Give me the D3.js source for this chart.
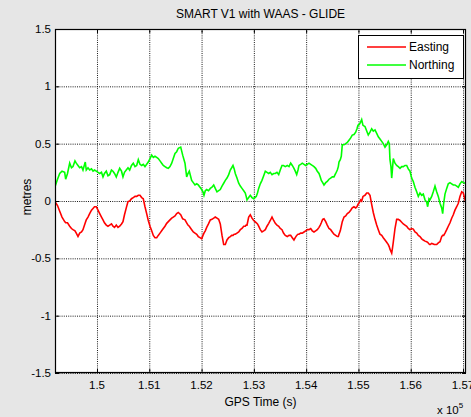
<!DOCTYPE html>
<html><head><meta charset="utf-8">
<script src="https://cdn.jsdelivr.net/npm/d3@7"></script>
<style>
html,body{margin:0;padding:0;background:#e6e6e6;overflow:hidden;}
svg{display:block;font-family:"Liberation Sans",Arial,Helvetica,sans-serif;}
</style></head><body>
<svg id="chart" width="471" height="417"></svg>
<script>
const time=[
149197,149245,149287,149331,149382,149401,149436,149478,149512,149541,
149579,149604,149637,149669,149704,149732,149776,149795,149828,149860,
149895,149924,149952,149987,150019,150052,150086,150115,150143,150178,
150210,150243,150277,150306,150335,150369,150402,150434,150469,150497,
150526,150560,150593,150625,150660,150694,150727,150759,150790,150822,
150855,150885,150918,150950,150981,151014,151046,151077,151109,151142,
151172,151205,151237,151268,151300,151333,151364,151396,151429,151459,
151492,151524,151555,151601,151639,151664,151683,151715,151740,151765,
151811,151842,151874,151907,151937,151970,152002,152027,152046,152071,
152098,152132,152167,152199,152232,152262,152295,152327,152358,152391,
152423,152454,152486,152519,152549,152576,152601,152624,152645,152677,
152710,152741,152773,152806,152836,152853,152869,152901,152932,152964,
152997,153022,153047,153069,153092,153123,153155,153188,153219,153251,
153284,153314,153347,153379,153410,153442,153475,153505,153538,153567,
153601,153639,153672,153704,153735,153767,153792,153819,153844,153863,
153896,153926,153959,153991,154022,154054,154087,154117,154150,154182,
154213,154246,154270,154290,154316,154341,154374,154404,154437,154469,
154500,154532,154565,154596,154615,154628,154653,154672,154691,154724,
154756,154787,154819,154852,154882,154915,154947,154972,154991,155020,
155043,155062,155087,155125,155158,155188,155221,155253,155284,155317,
155349,155380,155412,155445,155475,155508,155540,155571,155590,155603,
155622,155636,155651,155666,155699,155731,155762,155795,155827,155858,
155890,155923,155953,155986,156018,156049,156081,156114,156145,156177,
156210,156240,156273,156305,156324,156349,156368,156401,156431,156451,
156464,156496,156527,156560,156592,156611,156630,156655,156688,156718,
156751,156783,156814,156846,156879,156910,156942,156975,157005,157038,
157057];

const easting=[
-0.005,-0.04,-0.09,-0.14,-0.18,-0.19,-0.19,-0.22,-0.24,-0.25,
-0.26,-0.28,-0.31,-0.28,-0.27,-0.25,-0.19,-0.165,-0.14,-0.11,
-0.08,-0.065,-0.05,-0.05,-0.08,-0.11,-0.14,-0.165,-0.19,-0.21,
-0.22,-0.21,-0.20,-0.22,-0.23,-0.21,-0.23,-0.22,-0.20,-0.18,
-0.12,-0.06,-0.005,0.00,0.02,0.03,0.04,0.04,0.05,0.05,
0.03,0.02,-0.05,-0.11,-0.17,-0.22,-0.26,-0.30,-0.32,-0.32,
-0.30,-0.28,-0.26,-0.24,-0.22,-0.195,-0.18,-0.165,-0.15,-0.14,
-0.13,-0.11,-0.10,-0.12,-0.155,-0.16,-0.165,-0.19,-0.21,-0.22,
-0.25,-0.27,-0.28,-0.29,-0.31,-0.32,-0.33,-0.30,-0.28,-0.26,
-0.23,-0.20,-0.165,-0.16,-0.15,-0.14,-0.15,-0.16,-0.20,-0.30,
-0.38,-0.38,-0.34,-0.32,-0.31,-0.30,-0.30,-0.29,-0.29,-0.28,
-0.27,-0.25,-0.24,-0.22,-0.22,-0.21,-0.21,-0.14,-0.12,-0.15,
-0.17,-0.18,-0.19,-0.20,-0.22,-0.25,-0.27,-0.26,-0.25,-0.22,
-0.195,-0.17,-0.14,-0.17,-0.195,-0.21,-0.22,-0.24,-0.25,-0.28,
-0.30,-0.31,-0.30,-0.30,-0.32,-0.34,-0.32,-0.30,-0.29,-0.29,
-0.28,-0.28,-0.27,-0.26,-0.25,-0.25,-0.24,-0.26,-0.27,-0.26,
-0.25,-0.23,-0.21,-0.19,-0.16,-0.155,-0.18,-0.21,-0.24,-0.25,
-0.27,-0.29,-0.30,-0.31,-0.31,-0.29,-0.26,-0.22,-0.18,-0.14,
-0.13,-0.11,-0.10,-0.08,-0.06,-0.05,-0.06,-0.05,-0.03,-0.01,
0.01,0.00,0.04,0.05,0.07,0.07,0.05,-0.03,-0.10,-0.16,
-0.21,-0.25,-0.29,-0.30,-0.32,-0.34,-0.36,-0.38,-0.40,-0.42,
-0.44,-0.455,-0.41,-0.36,-0.24,-0.16,-0.16,-0.17,-0.185,-0.20,
-0.21,-0.22,-0.24,-0.25,-0.24,-0.245,-0.27,-0.28,-0.30,-0.31,
-0.33,-0.34,-0.35,-0.355,-0.36,-0.375,-0.38,-0.37,-0.375,-0.38,
-0.38,-0.38,-0.365,-0.355,-0.31,-0.30,-0.30,-0.28,-0.25,-0.22,
-0.19,-0.15,-0.12,-0.08,-0.05,-0.02,0.04,0.08,0.07,0.01,
-0.02];

const northing=[
0.125,0.19,0.24,0.26,0.25,0.19,0.24,0.33,0.29,0.30,
0.35,0.33,0.31,0.29,0.30,0.27,0.34,0.27,0.29,0.27,
0.28,0.26,0.27,0.26,0.25,0.24,0.25,0.21,0.24,0.26,
0.22,0.23,0.27,0.26,0.24,0.21,0.25,0.285,0.26,0.21,
0.25,0.27,0.29,0.27,0.31,0.33,0.30,0.31,0.36,0.32,
0.31,0.32,0.30,0.32,0.34,0.37,0.40,0.38,0.39,0.38,
0.37,0.35,0.33,0.31,0.30,0.29,0.285,0.30,0.33,0.37,
0.415,0.43,0.46,0.47,0.40,0.36,0.33,0.21,0.24,0.26,
0.18,0.16,0.14,0.15,0.14,0.12,0.10,0.08,0.05,0.09,
0.10,0.09,0.11,0.12,0.14,0.11,0.08,0.09,0.10,0.13,
0.155,0.18,0.20,0.23,0.27,0.29,0.31,0.28,0.24,0.20,
0.155,0.13,0.11,0.09,0.07,0.04,0.01,0.03,0.05,0.03,
0.02,0.03,0.04,0.07,0.11,0.15,0.18,0.22,0.26,0.25,
0.24,0.25,0.23,0.24,0.24,0.25,0.23,0.27,0.31,0.31,
0.30,0.31,0.30,0.33,0.31,0.285,0.26,0.23,0.27,0.31,
0.32,0.33,0.32,0.31,0.32,0.33,0.32,0.31,0.30,0.285,
0.26,0.24,0.21,0.18,0.16,0.14,0.16,0.17,0.19,0.20,
0.21,0.21,0.24,0.27,0.30,0.34,0.36,0.39,0.49,0.49,
0.50,0.51,0.53,0.55,0.575,0.58,0.60,0.63,0.66,0.67,
0.69,0.71,0.66,0.65,0.61,0.575,0.60,0.63,0.61,0.62,
0.59,0.56,0.54,0.52,0.50,0.47,0.49,0.52,0.50,0.36,
0.30,0.20,0.28,0.37,0.33,0.31,0.30,0.285,0.30,0.30,
0.31,0.31,0.28,0.26,0.20,0.17,0.12,0.08,0.04,0.07,
0.05,0.06,0.01,-0.01,-0.05,0.02,0.01,0.04,0.08,0.11,
0.13,0.08,0.04,-0.02,-0.06,-0.11,-0.02,0.06,0.11,0.15,
0.16,0.15,0.14,0.14,0.13,0.12,0.15,0.17,0.16,0.155,
0.16];

const yTicks=[-1.5,-1,-0.5,0,0.5,1,1.5];
const yTickLabels=["-1.5","-1","-0.5","0","0.5","1","1.5"];
const xTicks=[150000,151000,152000,153000,154000,155000,156000,157000];
const xTickLabels=["1.5","1.51","1.52","1.53","1.54","1.55","1.56","1.57"];
const seriesNames=["Easting","Northing"];
const seriesColors=["#ff0000","#00ff00"];
const titleText="SMART V1 with WAAS - GLIDE";
const xLabelText="GPS Time (s)";
const yLabelText="metres";

const W=471,H=417,L=55,R=466,T=29,B=373;
const svg=d3.select("#chart");
svg.append("rect").attr("width",W).attr("height",H).attr("fill","#e6e6e6");

const x=d3.scaleLinear().domain([time[0],time[time.length-1]]).range([L,R]);
const y=d3.scaleLinear().domain([-1.5,1.5]).range([B,T]);

svg.append("rect").attr("x",L).attr("y",T).attr("width",R-L).attr("height",B-T).attr("fill","#fff");

// grid
const gx=svg.append("g").attr("transform",`translate(0,${B})`)
  .call(d3.axisBottom(x).tickValues(xTicks).tickSize(-(B-T)).tickFormat(""));
gx.select(".domain").remove();
gx.selectAll("line").attr("stroke","#000").attr("stroke-width",0.9).attr("stroke-dasharray","1,1.2");
const gy=svg.append("g").attr("transform",`translate(${L},0)`)
  .call(d3.axisLeft(y).tickValues(yTicks).tickSize(-(R-L)).tickFormat(""));
gy.select(".domain").remove();
gy.selectAll("line").attr("stroke","#000").attr("stroke-width",0.9).attr("stroke-dasharray","1,1.2");

// data lines
svg.append("clipPath").attr("id","clip").append("rect").attr("x",L).attr("y",T).attr("width",R-L).attr("height",B-T);
const series=[easting,northing];
const line=d3.line().x((d,i)=>x(time[i])).y(d=>y(d));
series.forEach((s,k)=>{
  svg.append("path").datum(s.slice(0,time.length)).attr("clip-path","url(#clip)")
    .attr("fill","none").attr("stroke",seriesColors[k]).attr("stroke-width",1.6)
    .attr("stroke-linejoin","miter").attr("d",line);
});

// inward ticks on all sides
function tk(g){g.select(".domain").remove();g.selectAll("line").attr("stroke","#000");}
svg.append("g").attr("transform",`translate(0,${B})`).call(d3.axisBottom(x).tickValues(xTicks).tickSize(-4).tickFormat("")).call(tk);
svg.append("g").attr("transform",`translate(0,${T})`).call(d3.axisTop(x).tickValues(xTicks).tickSize(-4).tickFormat("")).call(tk);
svg.append("g").attr("transform",`translate(${L},0)`).call(d3.axisLeft(y).tickValues(yTicks).tickSize(-4).tickFormat("")).call(tk);
svg.append("g").attr("transform",`translate(${R},0)`).call(d3.axisRight(y).tickValues(yTicks).tickSize(-4).tickFormat("")).call(tk);

// border
svg.append("rect").attr("x",L+0.5).attr("y",T+0.5).attr("width",R-L-1).attr("height",B-T-1)
  .attr("fill","none").attr("stroke","#000").attr("stroke-width",1.2);

// tick labels
svg.append("g").selectAll("text").data(xTicks).join("text")
  .attr("x",d=>x(d)).attr("y",389).attr("text-anchor","middle")
  .attr("font-size",11.5).attr("fill","#000").text((d,i)=>xTickLabels[i]);
svg.append("g").selectAll("text").data(yTicks).join("text")
  .attr("x",51).attr("y",d=>y(d)).attr("dy","0.35em").attr("text-anchor","end")
  .attr("font-size",11.5).attr("fill","#000").text((d,i)=>yTickLabels[i]);

// multiplier
const mult=svg.append("text").attr("x",437).attr("y",414).attr("font-size",11.5).attr("fill","#000");
mult.append("tspan").text("x 10");
mult.append("tspan").attr("font-size",8).attr("dy",-6).text("5");

// title & labels
svg.append("text").attr("x",(L+R)/2).attr("y",18).attr("text-anchor","middle").attr("font-size",12).attr("fill","#000").text(titleText);
svg.append("text").attr("x",(L+R)/2).attr("y",406).attr("text-anchor","middle").attr("font-size",12).attr("fill","#000").text(xLabelText);
svg.append("text").attr("transform",`translate(31,${(T+B)/2 - 4}) rotate(-90)`).attr("text-anchor","middle").attr("font-size",12).attr("fill","#000").text(yLabelText);

// legend
const lg=svg.append("g");
lg.append("rect").attr("x",358.5).attr("y",35.5).attr("width",105).attr("height",43).attr("fill","#fff").attr("stroke","#000");
seriesNames.forEach((n,k)=>{
  const yy=47+k*18;
  lg.append("line").attr("x1",367).attr("x2",406).attr("y1",yy).attr("y2",yy).attr("stroke",seriesColors[k]).attr("stroke-width",1.3);
  lg.append("text").attr("x",409).attr("y",yy).attr("dy","0.35em").attr("font-size",12).attr("fill","#000").text(n);
});
</script>
</body></html>
